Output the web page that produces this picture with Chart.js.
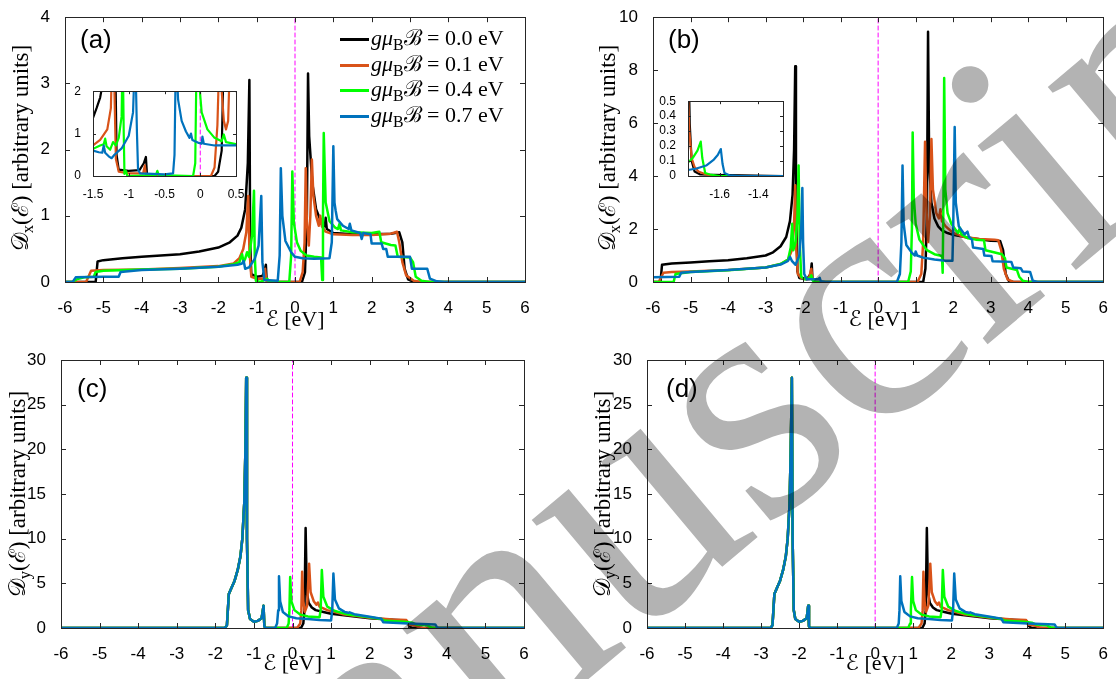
<!DOCTYPE html>
<html>
<head>
<meta charset="utf-8">
<script src="https://cdn.jsdelivr.net/npm/chart.js@4.4.1/dist/chart.umd.min.js"></script>
<style>
  body { margin:0; background:#fff; }
  #page { position:relative; width:1116px; height:679px; overflow:hidden; background:#fff; }
  canvas { position:absolute; }
  .ytitle { position:absolute; white-space:nowrap; font:23px 'Liberation Serif','DejaVu Serif',serif; color:#000;
            transform:translate(-50%,-50%) rotate(-90deg); }
  sub { font-size:0.72em; vertical-align:-0.3em; line-height:0; font-style:normal; }
  .tag { position:absolute; font:26px 'Liberation Sans', Arial, sans-serif; color:#000; }
  .legend { position:absolute; left:340px; top:25px; font:22px 'Liberation Serif','DejaVu Serif',serif; color:#000; }
  .legend div { height:25.5px; line-height:25.5px; white-space:nowrap; }
  .legend .swatch { display:inline-block; width:29px; height:3px; vertical-align:middle; margin-right:2px; }
  #mark { position:absolute; left:0; top:0; mix-blend-mode:multiply; pointer-events:none; }
</style>
</head>
<body>
<div id="page">
  <canvas id="panelA" width="556" height="340" style="left:0;top:0"></canvas>
  <canvas id="panelB" width="560" height="340" style="left:556px;top:0"></canvas>
  <canvas id="panelC" width="556" height="339" style="left:0;top:340px"></canvas>
  <canvas id="panelD" width="560" height="339" style="left:556px;top:340px"></canvas>
  <canvas id="insetA" width="190" height="125" style="left:60px;top:80px"></canvas>
  <canvas id="insetB" width="145" height="110" style="left:650px;top:90px"></canvas>

  <div class="ytitle" style="left:19px;top:148px">𝒟<sub>x</sub>(ℰ) [arbitrary units]</div>
  <div class="ytitle" style="left:606px;top:148px">𝒟<sub>x</sub>(ℰ) [arbitrary units]</div>
  <div class="ytitle" style="left:16px;top:494px">𝒟<sub>y</sub>(ℰ) [arbitrary units]</div>
  <div class="ytitle" style="left:601px;top:494px">𝒟<sub>y</sub>(ℰ) [arbitrary units]</div>

  <div class="tag" style="left:80px;top:24px">(a)</div>
  <div class="tag" style="left:668px;top:24px">(b)</div>
  <div class="tag" style="left:77px;top:373px">(c)</div>
  <div class="tag" style="left:666px;top:373px">(d)</div>

  <div class="legend" id="legend"></div>

  <svg id="mark" width="1116" height="679">
    <text x="175" y="1026" transform="rotate(-40 175 1026)" font-family="Liberation Serif" font-size="345" fill="#b3b3b3">manuscript</text>
  </svg>
</div>
<script>
// field values and line colours (MATLAB default order)
const fieldValues = ['0.0', '0.1', '0.4', '0.7'];
const lineColors = ['#000000', '#D95319', '#00FF00', '#0072BD'];

// tick values
const energyTicks = [-6, -5, -4, -3, -2, -1, 0, 1, 2, 3, 4, 5, 6];
const ticksA = [0, 1, 2, 3, 4];
const ticksB = [0, 2, 4, 6, 8, 10];
const ticksCD = [0, 5, 10, 15, 20, 25, 30];
const insetATicksX = [-1.5, -1, -0.5, 0, 0.5];
const insetATicksY = [0, 1, 2];
const insetBTicksX = [-1.6, -1.4];
const insetBTicksY = [0, 0.1, 0.2, 0.3, 0.4, 0.5];

// panel (a): D_x, [energy, dos]
const a00 = [[-6,0],[-5.2,0],[-5.15,0.31],[-5,0.33],[-4.5,0.36],[-4,0.38],[-3.5,0.4],[-3,0.42],[-2.5,0.46],[-2,0.52],[-1.7,0.6],[-1.5,0.7],[-1.4,0.82],[-1.3,1.1],[-1.23,1.8],[-1.19,3.05],[-1.17,0.6],[-1.14,0.12],[-1.0,0.08],[-0.85,0.09],[-0.79,0.18],[-0.76,0.26],[-0.74,0.02],[-0.6,0],[0.18,0],[0.26,0.15],[0.31,1.0],[0.34,3.15],[0.37,2.2],[0.45,1.5],[0.55,1.1],[0.7,0.88],[0.78,0.84],[0.8,0.97],[0.83,0.8],[1.0,0.74],[1.5,0.72],[2.0,0.72],[2.5,0.73],[2.72,0.75],[2.8,0.6],[2.86,0.2],[2.95,0.04],[3.1,0],[6,0]];
const a01 = [[-6,0],[-5.45,0],[-5.32,0.17],[-5,0.18],[-4,0.19],[-3,0.21],[-2,0.24],[-1.6,0.28],[-1.45,0.36],[-1.35,0.5],[-1.27,0.75],[-1.22,1.3],[-1.19,0.5],[-1.14,0.08],[-1,0.05],[-0.82,0.05],[-0.78,0.2],[-0.75,0.02],[-0.5,0],[0.12,0],[0.2,0.15],[0.25,0.6],[0.28,1.72],[0.31,0.9],[0.36,0.55],[0.4,1.0],[0.44,1.85],[0.48,1.3],[0.55,1.0],[0.62,0.85],[0.66,1.0],[0.7,0.84],[0.8,0.76],[1.0,0.72],[1.5,0.71],[2.0,0.71],[2.5,0.73],[2.66,0.76],[2.72,0.6],[2.8,0.3],[2.9,0.1],[3.1,0.02],[3.3,0],[6,0]];
const a04 = [[-6,0],[-5.8,0],[-5.7,0.04],[-5.5,0.07],[-5.25,0.08],[-5.2,0.15],[-5,0.17],[-4,0.19],[-3,0.2],[-2,0.23],[-1.6,0.27],[-1.45,0.3],[-1.38,0.42],[-1.34,0.3],[-1.3,0.35],[-1.25,0.45],[-1.2,0.38],[-1.12,0.7],[-1.07,1.38],[-1.05,0.4],[-1.02,0.02],[-0.9,0],[-0.72,0.05],[-0.68,0],[-0.15,0],[-0.1,0.4],[-0.07,1.67],[-0.03,0.9],[0.05,0.6],[0.15,0.47],[0.3,0.4],[0.5,0.38],[0.68,0.37],[0.71,0.03],[0.73,1.0],[0.75,2.25],[0.8,1.2],[0.9,0.92],[1.05,0.82],[1.12,0.8],[1.16,0.88],[1.2,0.78],[1.5,0.75],[2.0,0.74],[2.2,0.76],[2.25,0.6],[2.5,0.56],[2.62,0.55],[2.68,0.38],[3.0,0.37],[3.08,0.3],[3.15,0.08],[3.3,0.02],[3.5,0],[6,0]];
const a07 = [[-6,0],[-5.8,0],[-5.72,0.07],[-5,0.08],[-4.6,0.08],[-4.55,0.15],[-4,0.18],[-3,0.2],[-2,0.23],[-1.5,0.26],[-1.38,0.28],[-1.34,0.32],[-1.3,0.2],[-1.2,0.22],[-1.05,0.35],[-0.95,0.55],[-0.88,1.3],[-0.85,0.3],[-0.8,0.03],[-0.45,0.02],[-0.4,0.4],[-0.37,1.72],[-0.33,1.0],[-0.25,0.62],[-0.1,0.45],[0,0.38],[0.2,0.36],[0.5,0.35],[0.9,0.36],[0.96,0.6],[1.0,2.05],[1.03,1.2],[1.06,1.08],[1.1,0.95],[1.25,0.85],[1.4,0.8],[1.43,0.88],[1.47,0.78],[1.7,0.74],[1.74,0.65],[1.78,0.74],[1.97,0.72],[2.0,0.58],[2.26,0.58],[2.3,0.5],[2.38,0.5],[2.42,0.38],[3.0,0.38],[3.05,0.2],[3.45,0.2],[3.52,0.05],[3.7,0.01],[3.9,0],[6,0]];

// inset of (a)
const ia00 = [[-1.5,1.37],[-1.45,1.6],[-1.4,1.85],[-1.33,2.5],[-1.22,4],[-1.19,3],[-1.17,0.5],[-1.14,0.15],[-1.0,0.12],[-0.85,0.14],[-0.79,0.3],[-0.76,0.45],[-0.745,0.05],[-0.7,0],[0.2,0],[0.25,0.1],[0.3,0.6],[0.33,3],[0.36,3],[0.42,2.4],[0.5,2.0]];
const ia01 = [[-1.5,0.72],[-1.4,0.85],[-1.3,1.1],[-1.25,1.6],[-1.23,3],[-1.2,2],[-1.18,0.4],[-1.14,0.1],[-1.0,0.06],[-0.8,0.06],[-0.775,0.25],[-0.76,0.02],[-0.7,0],[0.15,0],[0.2,0.2],[0.24,1.2],[0.27,3],[0.3,2],[0.33,1.3],[0.36,1.1],[0.39,1.3],[0.42,3],[0.46,2.6],[0.5,2.1]];
const ia04 = [[-1.5,0.64],[-1.4,0.72],[-1.35,0.75],[-1.33,0.88],[-1.31,0.7],[-1.26,0.62],[-1.22,0.8],[-1.18,0.72],[-1.14,0.9],[-1.1,1.4],[-1.085,3],[-1.07,1],[-1.06,0.05],[-1.04,0.12],[-1.02,0],[-0.62,0.02],[-0.6,0.12],[-0.58,0.02],[-0.1,0],[-0.07,0.3],[-0.05,3],[-0.03,2.5],[0.02,1.5],[0.1,1.1],[0.2,0.9],[0.3,0.82],[0.33,0.98],[0.36,0.8],[0.5,0.75]];
const ia07 = [[-1.5,0.6],[-1.42,0.56],[-1.37,0.55],[-1.35,0.72],[-1.33,0.55],[-1.27,0.45],[-1.24,0.42],[-1.2,0.5],[-1.1,0.65],[-1.0,0.95],[-0.94,1.5],[-0.91,3],[-0.885,1],[-0.87,0.15],[-0.84,0.06],[-0.5,0.04],[-0.38,0.06],[-0.36,0.5],[-0.34,3],[-0.31,1.8],[-0.26,1.3],[-0.2,1.05],[-0.15,0.9],[-0.13,1.0],[-0.11,0.85],[-0.02,0.78],[0.02,0.76],[0.03,0.93],[0.05,0.76],[0.2,0.72],[0.5,0.72]];

// panel (b)
const b00 = [[-6,0],[-5.8,0],[-5.76,0.65],[-5.5,0.7],[-5,0.74],[-4.5,0.78],[-4,0.82],[-3.5,0.9],[-3,1.0],[-2.8,1.12],[-2.6,1.35],[-2.45,1.7],[-2.35,2.3],[-2.28,3.3],[-2.24,5],[-2.21,8.15],[-2.19,3],[-2.15,0.4],[-2.1,0.15],[-1.9,0.1],[-1.8,0.3],[-1.77,0.7],[-1.75,0.1],[-1.7,0],[1.2,0],[1.26,0.5],[1.3,2.5],[1.33,9.45],[1.36,4.5],[1.42,3],[1.5,2.4],[1.6,2.1],[1.7,1.95],[1.85,1.85],[2,1.78],[2.5,1.65],[3.0,1.56],[3.25,1.55],[3.33,1.2],[3.4,0.3],[3.48,0.05],[3.6,0],[6,0]];
const b01 = [[-6,0],[-5.85,0],[-5.72,0.35],[-5.5,0.38],[-5,0.4],[-4,0.45],[-3,0.55],[-2.6,0.68],[-2.4,0.85],[-2.3,1.2],[-2.24,2.2],[-2.21,3.65],[-2.18,1.2],[-2.14,0.3],[-2.05,0.15],[-1.85,0.1],[-1.78,0.5],[-1.75,0.1],[-1.68,0.02],[-1.6,0],[1.05,0],[1.15,0.3],[1.2,1.5],[1.25,5.3],[1.28,3],[1.33,1.5],[1.38,2.5],[1.42,5.4],[1.46,3.5],[1.55,2.6],[1.62,2.4],[1.66,2.75],[1.7,2.3],[1.8,2.1],[2,1.85],[2.3,1.7],[2.7,1.62],[3.1,1.6],[3.2,1.58],[3.28,1.2],[3.35,0.5],[3.45,0.1],[3.6,0],[6,0]];
const b04 = [[-6,0],[-5.45,0],[-5.4,0.3],[-5,0.38],[-4,0.44],[-3,0.55],[-2.6,0.68],[-2.4,0.85],[-2.33,1.3],[-2.29,2.2],[-2.26,1.2],[-2.2,1.5],[-2.15,2.5],[-2.12,4.4],[-2.09,1.5],[-2.05,0.2],[-1.95,0.1],[-1.82,0.15],[-1.78,0.25],[-1.74,0.05],[-1.65,0],[0.8,0],[0.87,0.4],[0.9,2.0],[0.92,5.65],[0.95,3.2],[1.0,2.2],[1.1,1.6],[1.3,1.2],[1.5,1.05],[1.7,0.98],[1.72,0.35],[1.74,3],[1.76,7.7],[1.79,3.5],[1.85,2.6],[1.95,2.2],[2.05,2.0],[2.13,1.85],[2.18,2.05],[2.22,1.8],[2.4,1.65],[2.6,1.6],[2.82,1.58],[2.86,1.2],[3.0,1.15],[3.3,1.05],[3.38,0.9],[3.42,0.55],[3.7,0.45],[3.76,0.2],[3.85,0.05],[4.0,0],[6,0]];
const b07 = [[-6,0.18],[-5.3,0.2],[-5.25,0.35],[-5,0.38],[-4,0.45],[-3,0.55],[-2.6,0.66],[-2.4,0.8],[-2.35,0.95],[-2.3,0.8],[-2.2,0.65],[-2.1,1.0],[-2.05,2.0],[-2.02,3.55],[-2.0,1.5],[-1.97,0.3],[-1.9,0.1],[-1.6,0.1],[-1.56,0.16],[-1.53,0.03],[-1.4,0],[0.5,0],[0.58,0.3],[0.62,1.5],[0.65,4.4],[0.68,2.2],[0.75,1.4],[0.9,1.1],[0.98,1.0],[1.0,1.15],[1.04,1.0],[1.2,0.92],[1.5,0.85],[1.8,0.8],[1.98,0.8],[2.0,2.0],[2.04,5.85],[2.07,3.0],[2.15,2.1],[2.3,1.8],[2.38,1.9],[2.42,1.7],[2.5,1.6],[2.53,1.3],[2.8,1.25],[2.83,1.0],[3.02,0.98],[3.05,0.78],[3.55,0.76],[3.6,0.55],[3.8,0.52],[3.85,0.4],[4.05,0.38],[4.12,0.05],[4.25,0],[6,0]];

// inset of (b)
const ib00 = [[-1.764,1.0],[-1.755,0.35],[-1.745,0.1],[-1.73,0.03],[-1.7,0.01],[-1.272,0]];
const ib01 = [[-1.764,0.55],[-1.757,0.3],[-1.745,0.12],[-1.73,0.06],[-1.71,0.03],[-1.67,0.01],[-1.62,0],[-1.272,0]];
const ib04 = [[-1.764,0.09],[-1.74,0.12],[-1.715,0.17],[-1.698,0.23],[-1.69,0.12],[-1.675,0.02],[-1.65,0.01],[-1.6,0],[-1.272,0]];
const ib07 = [[-1.764,0.04],[-1.72,0.05],[-1.67,0.07],[-1.63,0.11],[-1.61,0.14],[-1.594,0.18],[-1.585,0.08],[-1.575,0.02],[-1.55,0.005],[-1.5,0],[-1.272,0]];

// panel (c): D_y, valence part is shared by all four curves
const cValence = [[-6,0],[-1.75,0],[-1.7,0.3],[-1.65,3.8],[-1.6,4.3],[-1.5,5.3],[-1.42,6.5],[-1.35,8],[-1.3,10],[-1.25,14],[-1.22,20],[-1.2,28],[-1.18,10],[-1.15,2],[-1.1,1.0],[-1.0,0.7],[-0.9,0.8],[-0.8,1.1],[-0.75,2.5],[-0.73,0.2],[-0.7,0]];
const c00 = [[0.22,0],[0.28,0.5],[0.31,2],[0.34,11.2],[0.37,4],[0.42,2.8],[0.5,2.3],[0.6,2.0],[0.8,1.8],[1.0,1.6],[1.5,1.35],[2.0,1.1],[2.5,0.95],[2.9,0.85],[2.98,0.7],[3.03,0.2],[3.1,0],[6,0]];
const c01 = [[0.12,0],[0.2,0.5],[0.23,2],[0.25,6.3],[0.28,3],[0.32,1.8],[0.38,2.5],[0.43,7.2],[0.47,4],[0.55,3],[0.62,2.6],[0.66,2.85],[0.7,2.4],[0.9,2.0],[1.3,1.55],[2.0,1.15],[2.6,0.95],[2.95,0.9],[3.0,0.4],[3.2,0.25],[3.3,0.05],[3.4,0],[6,0]];
const c04 = [[-0.15,0],[-0.1,0.5],[-0.08,2],[-0.06,5.7],[-0.03,3],[0.05,2.0],[0.2,1.5],[0.4,1.3],[0.7,1.2],[0.73,2],[0.76,6.5],[0.8,3.5],[0.9,2.4],[1.1,1.9],[1.4,1.55],[2.0,1.2],[2.3,1.0],[2.4,0.8],[2.9,0.7],[3.1,0.6],[3.2,0.4],[3.5,0.3],[3.6,0.05],[3.7,0],[6,0]];
const c07 = [[-0.45,0],[-0.4,0.5],[-0.37,2],[-0.35,5.8],[-0.32,3],[-0.25,1.8],[-0.1,1.3],[0.1,1.1],[0.4,1.0],[0.7,0.9],[1.0,0.85],[1.03,2],[1.06,6.1],[1.1,3.2],[1.2,2.2],[1.35,1.8],[1.45,1.7],[1.48,1.75],[1.6,1.55],[2.0,1.25],[2.3,1.05],[2.35,0.65],[3.0,0.5],[3.7,0.4],[3.75,0.05],[3.8,0],[6,0]];

// panel (d)
const dValence = [[-6,0],[-2.75,0],[-2.7,0.3],[-2.65,3.8],[-2.6,4.3],[-2.5,5.3],[-2.42,6.5],[-2.35,8],[-2.3,10],[-2.25,14],[-2.22,20],[-2.19,28],[-2.17,10],[-2.14,2],[-2.1,1.0],[-2.0,0.7],[-1.9,0.8],[-1.8,1.1],[-1.76,2.5],[-1.74,0.2],[-1.7,0]];
const d00 = [[1.24,0],[1.3,0.5],[1.33,2],[1.36,11.2],[1.39,4],[1.44,2.8],[1.52,2.3],[1.62,2.0],[1.82,1.8],[2.02,1.6],[2.52,1.35],[3.02,1.1],[3.52,0.95],[3.92,0.85],[4.0,0.7],[4.05,0.2],[4.12,0],[6,0]];
const d01 = [[1.14,0],[1.22,0.5],[1.25,2],[1.27,6.3],[1.3,3],[1.34,1.8],[1.4,2.5],[1.45,7.2],[1.49,4],[1.57,3],[1.64,2.6],[1.68,2.85],[1.72,2.4],[1.92,2.0],[2.32,1.55],[3.02,1.15],[3.62,0.95],[3.97,0.9],[4.02,0.4],[4.22,0.25],[4.32,0.05],[4.42,0],[6,0]];
const d04 = [[0.87,0],[0.92,0.5],[0.94,2],[0.97,5.7],[1.0,3],[1.07,2.0],[1.22,1.5],[1.42,1.3],[1.72,1.2],[1.75,2],[1.78,6.5],[1.82,3.5],[1.92,2.4],[2.12,1.9],[2.42,1.55],[3.02,1.2],[3.32,1.0],[3.42,0.8],[3.92,0.7],[4.12,0.6],[4.22,0.4],[4.52,0.3],[4.62,0.05],[4.72,0],[6,0]];
const d07 = [[0.57,0],[0.62,0.5],[0.64,2],[0.66,5.8],[0.69,3],[0.77,1.8],[0.92,1.3],[1.12,1.1],[1.42,1.0],[1.72,0.9],[2.02,0.85],[2.05,2],[2.08,6.1],[2.12,3.2],[2.22,2.2],[2.37,1.8],[2.47,1.7],[2.5,1.75],[2.62,1.55],[3.02,1.25],[3.32,1.05],[3.37,0.65],[4.02,0.5],[4.72,0.4],[4.77,0.05],[4.82,0],[6,0]];

const sansFont = "'Liberation Sans', Arial, sans-serif";
const mathFont = "'Liberation Serif', 'DejaVu Serif', 'DejaVu Sans', serif";
Chart.defaults.font.family = sansFont;
Chart.defaults.color = '#000';

const toPts = arr => arr.map(p => ({ x: p[0], y: p[1] }));

// MATLAB-like box with inward ticks on all sides
const frame = {
  id: 'frame',
  beforeDatasetsDraw(chart, args, opts) {
    if (!opts.fill) return;
    const a = chart.chartArea;
    chart.ctx.save();
    chart.ctx.fillStyle = '#fff';
    chart.ctx.fillRect(a.left, a.top, a.width, a.height);
    chart.ctx.restore();
  },
  afterDatasetsDraw(chart, args, opts) {
    const { ctx, chartArea: a, scales } = chart;
    const len = opts.len;
    ctx.save();
    ctx.strokeStyle = '#262626';
    ctx.lineWidth = 1;
    ctx.beginPath();
    scales.x.ticks.forEach(t => {
      const px = Math.round(scales.x.getPixelForValue(t.value)) + 0.5;
      ctx.moveTo(px, a.bottom); ctx.lineTo(px, a.bottom - len);
      ctx.moveTo(px, a.top); ctx.lineTo(px, a.top + len);
    });
    scales.y.ticks.forEach(t => {
      const py = Math.round(scales.y.getPixelForValue(t.value)) + 0.5;
      ctx.moveTo(a.left, py); ctx.lineTo(a.left + len, py);
      ctx.moveTo(a.right, py); ctx.lineTo(a.right - len, py);
    });
    ctx.stroke();
    ctx.strokeRect(Math.round(a.left) + 0.5, Math.round(a.top) + 0.5, Math.round(a.width), Math.round(a.height));
    ctx.restore();
  }
};

function makePanel(id, p) {
  const cv = document.getElementById(id);
  const W = cv.width, H = cv.height;
  const sets = [];
  if (p.zeroLine) {
    sets.push({ data: toPts([[0, p.yMin], [0, p.yMax]]), borderColor: '#FF00FF', borderWidth: 1, borderDash: [4, 3], order: 9 });
  }
  p.series.forEach((s, i) => {
    sets.push({ label: fieldValues[i], data: toPts(s), borderColor: lineColors[i], borderWidth: p.lineWidth, order: 8 - i });
  });
  return new Chart(cv, {
    type: 'line',
    data: { datasets: sets },
    options: {
      responsive: false,
      animation: false,
      devicePixelRatio: 1,
      layout: { padding: { top: p.area.top, right: W - p.area.right, left: 0, bottom: 0 } },
      elements: { point: { radius: 0 }, line: { tension: 0, borderJoinStyle: 'round', borderCapStyle: 'round' } },
      plugins: { legend: { display: false }, tooltip: { enabled: false }, frame: { len: p.tickLen, fill: !!p.fill } },
      scales: {
        x: {
          type: 'linear', min: p.xMin, max: p.xMax,
          grid: { display: false }, border: { display: false },
          afterBuildTicks: s => { s.ticks = p.xTicks.map(v => ({ value: v })); },
          afterFit: s => { s.height = H - p.area.bottom; },
          ticks: { font: { size: p.fontSize }, padding: p.xPad, maxRotation: 0, autoSkip: false, callback: v => String(v) },
          title: p.xTitle
            ? { display: true, text: p.xTitle, font: { family: mathFont, size: 22 }, padding: { top: 0, bottom: p.titlePad } }
            : { display: false }
        },
        y: {
          type: 'linear', min: p.yMin, max: p.yMax,
          grid: { display: false }, border: { display: false },
          afterBuildTicks: s => { s.ticks = p.yTicks.map(v => ({ value: v })); },
          afterFit: s => { s.width = p.area.left; },
          ticks: { font: { size: p.fontSize }, padding: p.yPad, autoSkip: false, callback: v => String(v) }
        }
      }
    },
    plugins: [frame]
  });
}

const mainOpts = { xMin: -6, xMax: 6, xTicks: energyTicks, fontSize: 17, tickLen: 5, lineWidth: 2.5,
                   xPad: 8, yPad: 7, xTitle: 'ℰ [eV]', zeroLine: true };

makePanel('panelA', Object.assign({}, mainOpts, {
  series: [a00, a01, a04, a07], yMin: 0, yMax: 4, yTicks: ticksA,
  area: { left: 65, top: 14, right: 525, bottom: 282 }, titlePad: 7
}));
makePanel('panelB', Object.assign({}, mainOpts, {
  series: [b00, b01, b04, b07], yMin: 0, yMax: 10, yTicks: ticksB,
  area: { left: 97, top: 14, right: 554, bottom: 282 }, titlePad: 7
}));
makePanel('panelC', Object.assign({}, mainOpts, {
  series: [cValence.concat(c00), cValence.concat(c01), cValence.concat(c04), cValence.concat(c07)],
  yMin: 0, yMax: 30, yTicks: ticksCD,
  area: { left: 61, top: 20, right: 524, bottom: 288 }, titlePad: 2
}));
makePanel('panelD', Object.assign({}, mainOpts, {
  series: [dValence.concat(d00), dValence.concat(d01), dValence.concat(d04), dValence.concat(d07)],
  yMin: 0, yMax: 30, yTicks: ticksCD,
  area: { left: 91, top: 20, right: 554, bottom: 288 }, titlePad: 2
}));
makePanel('insetA', {
  series: [ia00, ia01, ia04, ia07], xMin: -1.5, xMax: 0.5, yMin: 0, yMax: 2,
  xTicks: insetATicksX, yTicks: insetATicksY, fontSize: 12, tickLen: 3, lineWidth: 2.2,
  xPad: 3, yPad: 4, zeroLine: true, fill: true,
  area: { left: 33, top: 8, right: 176, bottom: 96 }
});
makePanel('insetB', {
  series: [ib00, ib01, ib04, ib07], xMin: -1.764, xMax: -1.272, yMin: 0, yMax: 0.5,
  xTicks: insetBTicksX, yTicks: insetBTicksY, fontSize: 12, tickLen: 3, lineWidth: 2.2,
  xPad: 3, yPad: 4, zeroLine: false, fill: true,
  area: { left: 38, top: 8, right: 133, bottom: 86 }
});

// legend of panel (a)
const legend = document.getElementById('legend');
fieldValues.forEach((v, i) => {
  const row = document.createElement('div');
  row.innerHTML = '<span class="swatch" style="background:' + lineColors[i] + '"></span>' +
    '<i>gμ</i><sub>B</sub>ℬ = ' + v + ' eV';
  legend.appendChild(row);
});
</script>
</body>
</html>
